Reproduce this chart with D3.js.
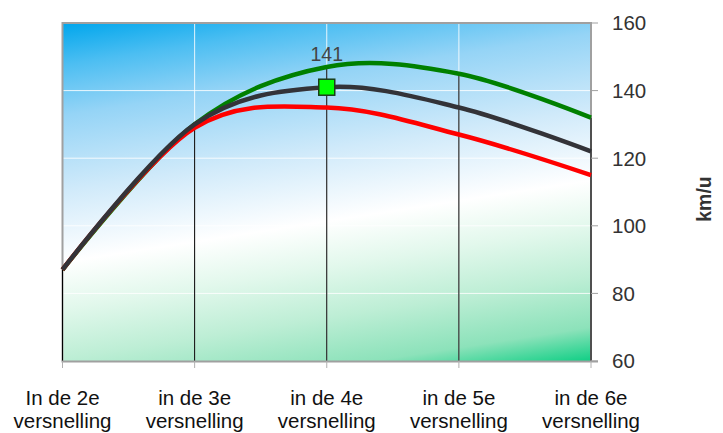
<!DOCTYPE html>
<html>
<head>
<meta charset="utf-8">
<script src="https://cdn.jsdelivr.net/npm/d3@7"></script>
<style>
  html, body { margin: 0; padding: 0; background: #ffffff; }
  svg { display: block; }
  text { font-family: "Liberation Sans", Arial, Helvetica, sans-serif; }
</style>
</head>
<body>
<svg id="chart" width="723" height="433"></svg>
<script>
const categories = ["In de 2e versnelling", "in de 3e versnelling", "in de 4e versnelling", "in de 5e versnelling", "in de 6e versnelling"];
const greenValues = [87, 130, 147, 145, 132];
const darkValues  = [87, 130, 141, 135, 122];
const redValues   = [87, 129, 135, 127, 115];
const yTicks = [60, 80, 100, 120, 140, 160];
const markerIndex = 2;
const markerLabel = "141";
const yTitle = "km/u";

(function () {
const svg = d3.select("#chart");
const pL = 62.5, pR = 591, pT = 23, pB = 361;

const x = d3.scalePoint().domain(categories).range([pL, pR]);
const y = d3.scaleLinear().domain([60, 160]).range([pB, pT]);

// background gradient
const defs = svg.append("defs");
const grad = defs.append("linearGradient")
  .attr("id", "bg").attr("gradientUnits", "userSpaceOnUse")
  .attr("x1", pL).attr("y1", pT).attr("x2", pL + 63.6).attr("y2", pT + 410);
[[0, "#00a6ec"], [0.1, "#4cbef2"], [0.22, "#95d4f6"], [0.4, "#d0eafa"], [0.57, "#ffffff"],
 [0.68, "#e2f8ec"], [0.8, "#bdeed5"], [0.92, "#8ce2ba"], [1, "#10cf85"]]
  .forEach(([o, c]) => grad.append("stop").attr("offset", o).attr("stop-color", c));

svg.append("rect").attr("x", pL).attr("y", pT)
  .attr("width", pR - pL).attr("height", pB - pT)
  .attr("fill", "url(#bg)");

// white gridlines
const g = svg.append("g");
g.selectAll("line.hg").data(yTicks.filter(v => v > 60 && v < 160)).join("line")
  .attr("class", "hg")
  .attr("x1", pL).attr("x2", pR)
  .attr("y1", d => y(d)).attr("y2", d => y(d))
  .attr("stroke", "#ffffff").attr("stroke-opacity", 0.85).attr("stroke-width", 1);
g.selectAll("line.vg").data(categories.slice(1, -1)).join("line")
  .attr("class", "vg")
  .attr("x1", d => x(d)).attr("x2", d => x(d))
  .attr("y1", pT).attr("y2", pB)
  .attr("stroke", "#ffffff").attr("stroke-opacity", 0.85).attr("stroke-width", 1);

// gray frame (top, left, right)
svg.append("path")
  .attr("d", `M${pL},${pB} V${pT} H${pR} V${pB}`)
  .attr("fill", "none").attr("stroke", "#a0a0a0").attr("stroke-width", 2);

// drop lines from top series
svg.selectAll("line.drop").data(categories).join("line")
  .attr("class", "drop")
  .attr("x1", d => x(d)).attr("x2", d => x(d))
  .attr("y1", (d, i) => y(greenValues[i])).attr("y2", pB)
  .attr("stroke", "#000000").attr("stroke-width", 1);

// bottom axis line & ticks
svg.append("line").attr("x1", pL - 1).attr("x2", pR + 7)
  .attr("y1", pB + 0.5).attr("y2", pB + 0.5)
  .attr("stroke", "#a0a0a0").attr("stroke-width", 2);
svg.selectAll("line.xt").data(categories).join("line")
  .attr("class", "xt")
  .attr("x1", d => x(d)).attr("x2", d => x(d))
  .attr("y1", pB).attr("y2", pB + 7)
  .attr("stroke", "#b0b0b0").attr("stroke-width", 1);

// right axis ticks + labels
svg.selectAll("line.yt").data(yTicks).join("line")
  .attr("class", "yt")
  .attr("x1", pR).attr("x2", pR + 7)
  .attr("y1", d => y(d)).attr("y2", d => y(d))
  .attr("stroke", "#a0a0a0").attr("stroke-width", 1);
svg.selectAll("text.yl").data(yTicks).join("text")
  .attr("class", "yl")
  .attr("x", 612).attr("y", d => y(d)).attr("dy", "0.36em")
  .attr("font-size", 20.5).attr("fill", "#333333")
  .text(d => d);

// y title
svg.append("text")
  .attr("transform", "translate(711,199) rotate(-90)")
  .attr("text-anchor", "middle")
  .attr("font-size", 19.5).attr("font-weight", "bold").attr("fill", "#333333")
  .text(yTitle);

// x labels
const xl = svg.selectAll("text.xl").data(categories).join("text")
  .attr("class", "xl")
  .attr("text-anchor", "middle").attr("font-size", 20.5).attr("fill", "#111111");
xl.each(function (d) {
  const idx = d.lastIndexOf(" ");
  const lines = [d.slice(0, idx), d.slice(idx + 1)];
  d3.select(this).selectAll("tspan").data(lines).join("tspan")
    .attr("x", x(d)).attr("y", (l, i) => 405 + i * 23).text(l => l);
});

// series lines
const line = d3.line().x((v, i) => x(categories[i])).y(v => y(v)).curve(d3.curveCardinal);
[[greenValues, "#008000"], [redValues, "#ff0000"], [darkValues, "#333338"]].forEach(([vals, col]) => {
  svg.append("path").datum(vals).attr("d", line)
    .attr("fill", "none").attr("stroke", col).attr("stroke-width", 4.5)
    .attr("stroke-linejoin", "round");
});

// marker + label
const mx = x(categories[markerIndex]), my = y(darkValues[markerIndex]);
svg.append("rect").attr("x", mx - 8).attr("y", my - 8).attr("width", 16).attr("height", 16)
  .attr("fill", "#00ff00").attr("stroke", "#1a3d1a").attr("stroke-width", 1.5);
svg.append("text").attr("x", mx).attr("y", 61).attr("text-anchor", "middle")
  .attr("font-size", 19.5).attr("fill", "#444444").text(markerLabel);
})();
</script>
</body>
</html>
